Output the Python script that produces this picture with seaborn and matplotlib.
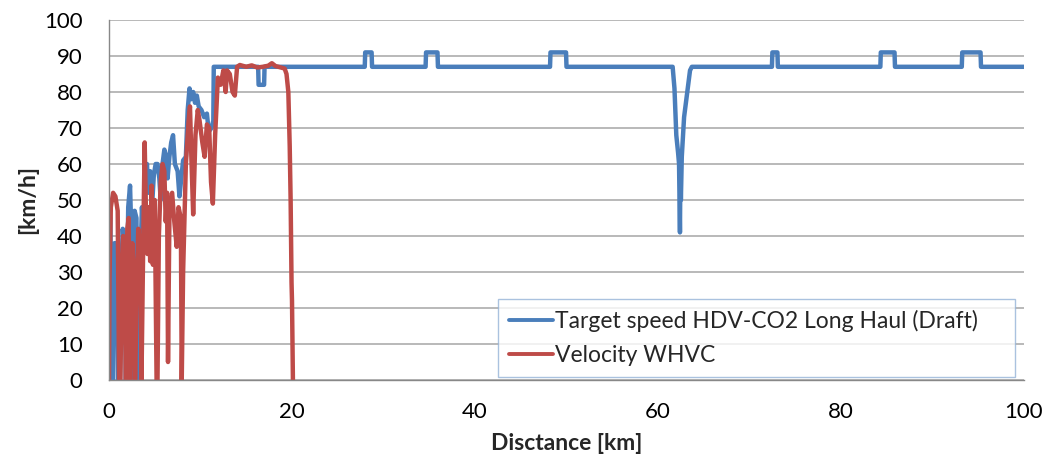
import matplotlib
matplotlib.use("Agg")
import matplotlib.pyplot as plt
import seaborn as sns
import pandas as pd

# ---- data ----
target_km = [0.0, 0.05, 0.15, 0.3, 0.45, 0.6, 0.9, 1.0, 1.2, 1.35, 1.5, 1.7, 1.85, 1.95,
             2.1, 2.3, 2.45, 2.55, 2.7, 2.8, 3.0, 3.1, 3.3, 3.45, 3.6, 3.8, 3.95, 4.15,
             4.3, 4.5, 4.7, 4.9, 5.1, 5.3, 5.5, 5.65, 5.85, 6.05, 6.25, 6.4, 6.6, 6.8,
             7.0, 7.2, 7.5, 7.7, 7.9, 8.1, 8.4, 8.6, 8.8, 9.0, 9.2, 9.4, 9.6, 9.8, 10.1,
             10.4, 10.7, 10.9, 11.2, 11.4, 11.45, 16.3, 16.35, 16.95, 17.0, 27.95, 28.0,
             28.7, 28.75, 34.6, 34.65, 35.9, 35.95, 48.2, 48.25, 49.95, 50.0, 61.6, 61.8,
             62.0, 62.2, 62.3, 62.4, 62.45, 62.5, 62.6, 62.85, 63.1, 63.5, 63.7, 72.45,
             72.5, 73.05, 73.1, 84.3, 84.35, 85.85, 85.9, 93.2, 93.25, 95.25, 95.3, 100.0]
target_speed = [30, 47, 45, 0, 0, 38, 38, 0, 0, 30, 42, 35, 0, 20,
                48, 54, 40, 0, 0, 47, 45, 0, 0, 35, 48, 40, 55, 60,
                52, 58, 48, 57, 60, 60, 56, 50, 60, 64, 62, 56, 62, 66,
                68, 60, 58, 51, 56, 61, 62, 75, 81, 78, 80, 77, 79, 76, 75,
                73, 74, 69, 70, 72, 87, 87, 82, 82, 87, 87, 91,
                91, 87, 87, 91, 91, 87, 87, 91, 91, 87, 87, 81,
                68, 63, 60, 41, 60, 50, 62, 73, 78, 86, 87, 87,
                91, 91, 87, 87, 91, 91, 87, 87, 91, 91, 87, 87]

whvc_km = [0.0, 0.05, 0.2, 0.45, 0.7, 0.95, 1.1, 1.25, 1.4, 1.55, 1.7, 1.85, 2.0, 2.15,
           2.3, 2.4, 2.55, 2.7, 2.85, 3.0, 3.2, 3.35, 3.45, 3.55, 3.75, 3.9, 4.05, 4.2,
           4.35, 4.5, 4.65, 4.8, 5.0, 5.2, 5.3, 5.45, 5.65, 5.85, 6.05, 6.2, 6.35, 6.45,
           6.6, 6.9, 7.1, 7.4, 7.6, 7.85, 7.95, 8.1, 8.4, 8.7, 8.85, 9.0, 9.2, 9.45,
           9.7, 9.9, 10.2, 10.45, 10.7, 10.95, 11.15, 11.35, 11.6, 11.9, 12.2, 12.5,
           12.75, 12.9, 13.2, 13.5, 13.75, 14.0, 14.3, 15.0, 15.6, 16.2, 16.8, 17.4,
           17.8, 18.2, 18.8, 19.2, 19.4, 19.6, 19.75, 19.85, 19.95, 20.0, 20.1]
whvc_speed = [0, 28, 48, 52, 51, 47, 0, 0, 30, 40, 25, 0, 42, 45,
              0, 15, 38, 30, 0, 20, 42, 22, 40, 0, 40, 66, 45, 35,
              48, 33, 54, 32, 50, 0, 0, 40, 55, 60, 58, 44, 52, 5,
              45, 52, 45, 37, 48, 45, 0, 30, 60, 72, 76, 62, 46, 68,
              75, 72, 66, 62, 71, 70, 55, 49, 68, 84, 82, 86,
              80, 86, 85, 80, 79, 87, 87.5, 87, 87.4, 86.8, 87, 87.3,
              88, 87.2, 86.8, 86.5, 85, 80, 65, 50, 27, 22, 0]

x_ticks = [0, 20, 40, 60, 80, 100]
y_ticks = [0, 10, 20, 30, 40, 50, 60, 70, 80, 90, 100]
series_names = ["Target speed HDV-CO2 Long Haul (Draft)", "Velocity WHVC"]
colors = ["#4a7ebb", "#be4b48"]

df = pd.concat([
    pd.DataFrame({"km": target_km, "speed": target_speed, "series": series_names[0]}),
    pd.DataFrame({"km": whvc_km, "speed": whvc_speed, "series": series_names[1]}),
], ignore_index=True)

sns.set_theme(style="white")
plt.rcParams["font.family"] = ["Lato", "DejaVu Sans"]

fig = plt.figure(figsize=(10.47, 4.59), dpi=100)
ax = fig.add_axes([109 / 1047, 1 - 380 / 459, 915 / 1047, 360 / 459])

sns.lineplot(data=df, x="km", y="speed", hue="series", palette=colors,
             estimator=None, sort=False, linewidth=3.2, ax=ax)

ax.set_xlim(0, 100)
ax.set_ylim(0, 100)
ax.set_xticks(x_ticks)
ax.set_yticks(y_ticks)
ax.tick_params(axis="both", length=0, labelsize=16, colors="#000000")
ax.tick_params(axis="y", pad=19)
ax.tick_params(axis="x", pad=16)
ax.yaxis.grid(True, color="#a6a6a6", linewidth=1.1)
ax.set_axisbelow(True)
for s in ["top", "right"]:
    ax.spines[s].set_visible(False)
for s in ["left", "bottom"]:
    ax.spines[s].set_color("#888888")
    ax.spines[s].set_linewidth(1.0)

ax.set_xlabel("Disctance [km]", fontsize=16.5, fontweight="bold", labelpad=8)
ax.set_ylabel("[km/h]", fontsize=16.5, fontweight="bold", labelpad=4)

leg = ax.legend(loc="lower left", bbox_to_anchor=(0.4251, 0.008, 0.565, 0.214),
                mode="expand", fontsize=16.5,
                frameon=True, fancybox=False, handlelength=1.9, handletextpad=0.1,
                borderpad=0.5, labelspacing=0.55, borderaxespad=0)
leg.get_frame().set_edgecolor("#95b3d7")
leg.get_frame().set_linewidth(1.0)
for line in leg.get_lines():
    line.set_linewidth(2.8)

fig.savefig("out.png", dpi=100)
